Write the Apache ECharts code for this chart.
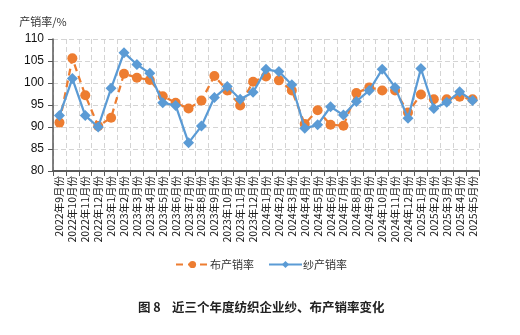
<!DOCTYPE html>
<html>
<head>
<meta charset="utf-8">
<script src="https://cdn.jsdelivr.net/npm/echarts@6/dist/echarts.min.js"></script>
<style>
  html, body { margin: 0; padding: 0; background: #fff; }
  #chart { width: 520px; height: 335px; }
</style>
</head>
<body>
<div id="chart"></div>
<script>
// Months from 2022-09 through 2025-05
const months = [
  '2022年9月份', '2022年10月份', '2022年11月份', '2022年12月份',
  '2023年1月份', '2023年2月份', '2023年3月份', '2023年4月份', '2023年5月份', '2023年6月份',
  '2023年7月份', '2023年8月份', '2023年9月份', '2023年10月份', '2023年11月份', '2023年12月份',
  '2024年1月份', '2024年2月份', '2024年3月份', '2024年4月份', '2024年5月份', '2024年6月份',
  '2024年7月份', '2024年8月份', '2024年9月份', '2024年10月份', '2024年11月份', '2024年12月份',
  '2025年1月份', '2025年2月份', '2025年3月份', '2025年4月份', '2025年5月份'
];

// 布产销率 (%)
const fabricRate = [
  91.0, 105.6, 97.2, 90.2, 92.1, 102.1, 101.2, 100.7, 97.0, 95.5,
  94.2, 96.0, 101.6, 98.3, 94.9, 100.3, 101.5, 100.6, 98.3, 90.7,
  93.8, 90.5, 90.3, 97.7, 99.0, 98.3, 98.3, 93.3, 97.4, 96.3,
  96.3, 96.9, 96.3
];

// 纱产销率 (%)
const yarnRate = [
  92.6, 101.0, 92.6, 90.0, 98.8, 106.9, 104.2, 102.2, 95.5, 94.9,
  86.4, 90.2, 96.7, 99.2, 96.3, 97.9, 103.1, 102.6, 99.6, 89.7,
  90.5, 94.6, 92.7, 95.8, 98.3, 103.1, 99.0, 92.0, 103.3, 94.2,
  95.6, 98.0, 96.0
];

const yTicks = { min: 80, max: 110, step: 5 };

const chart = echarts.init(document.getElementById('chart'), null, { renderer: 'canvas' });

const axisFont = 'Liberation Sans, Arial, sans-serif';
const cjkFont = '"Noto Sans CJK SC", sans-serif';

chart.setOption({
  animation: false,
  backgroundColor: '#ffffff',
  title: {
    text: '图 8    近三个年度纺织企业纱、布产销率变化',
    left: 133,
    top: 296,
    textStyle: {
      fontFamily: cjkFont,
      fontSize: 12.5,
      fontWeight: 'bold',
      color: '#222'
    }
  },
  legend: {
    data: ['布产销率', '纱产销率'],
    left: 170,
    top: 254,
    itemWidth: 33,
    itemHeight: 9,
    itemGap: 14,
    textStyle: { fontFamily: cjkFont, fontSize: 11, color: '#333', padding: [0, 0, 0, -4] }
  },
  grid: {
    left: 53,
    right: 41,
    top: 39,
    bottom: 164,
    outerBoundsMode: 'none',
    containLabel: false
  },
  xAxis: {
    type: 'category',
    data: months,
    boundaryGap: true,
    axisLine: { show: true, lineStyle: { color: '#595959', width: 2 } },
    axisTick: { show: true, interval: 0, length: 5, lineStyle: { color: '#595959' } },
    axisLabel: {
      interval: 0,
      rotate: 90,
      margin: 5,
      fontFamily: cjkFont,
      fontSize: 10.5,
      color: '#1a1a1a'
    },
    splitLine: {
      show: true,
      interval: 0,
      lineStyle: { color: '#d4d4d4', type: [5, 3], width: 1 }
    }
  },
  yAxis: {
    type: 'value',
    min: yTicks.min,
    max: yTicks.max,
    interval: yTicks.step,
    name: '产销率/%',
    nameLocation: 'end',
    nameGap: 12,
    nameTextStyle: {
      fontFamily: cjkFont,
      fontSize: 11,
      color: '#333',
      align: 'center',
      padding: [0, 0, 0, -20]
    },
    axisLine: { show: true, lineStyle: { color: '#595959', width: 1.5 } },
    axisTick: { show: true, length: 5, lineStyle: { color: '#595959' } },
    axisLabel: {
      margin: 9,
      fontFamily: axisFont,
      fontSize: 12,
      color: '#111'
    },
    splitLine: {
      show: true,
      lineStyle: { color: '#d4d4d4', type: [5, 3], width: 1 }
    }
  },
  series: [
    {
      name: '布产销率',
      type: 'line',
      data: fabricRate,
      symbol: 'circle',
      symbolSize: 10,
      z: 2,
      itemStyle: { color: '#ED7D31' },
      lineStyle: { color: '#ED7D31', width: 2.25, type: [7, 5] }
    },
    {
      name: '纱产销率',
      type: 'line',
      data: yarnRate,
      symbol: 'diamond',
      symbolSize: 11,
      z: 3,
      itemStyle: { color: '#5B9BD5' },
      lineStyle: { color: '#5B9BD5', width: 2.25 }
    }
  ]
});
</script>
</body>
</html>
